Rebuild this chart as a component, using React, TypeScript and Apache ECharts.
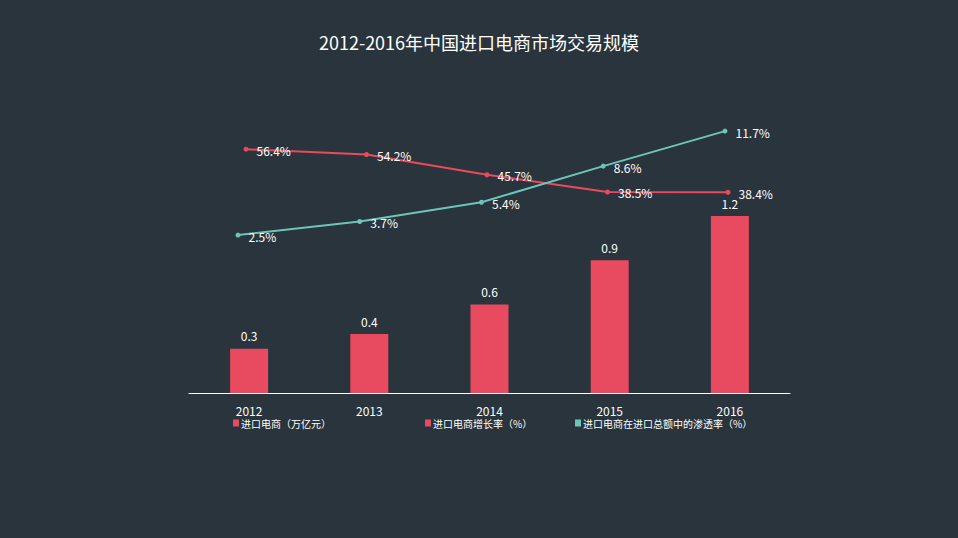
import React, { useEffect, useRef } from "react";
import * as echarts from "echarts";

const categories = ["2012", "2013", "2014", "2015", "2016"];
const scaleValues = [0.3, 0.4, 0.6, 0.9, 1.2];
const growthRates = [56.4, 54.2, 45.7, 38.5, 38.4];
const penetrationRates = [2.5, 3.7, 5.4, 8.6, 11.7];

const nameBar = "进口电商（万亿元）";
const nameGrowth = "进口电商增长率（%）";
const namePen = "进口电商在进口总额中的渗透率（%）";

const BG = "#2a343c";
const RED = "#e84a5f";
const TEAL = "#6cc5b8";
const FONT = "'Noto Sans CJK SC', 'Noto Sans', sans-serif";

export default function App() {
  const ref = useRef<HTMLDivElement>(null);
  useEffect(() => {
    const chart = echarts.init(ref.current!, null, { renderer: "svg" });
    const legendCommon = {
      itemWidth: 6,
      itemHeight: 7,
      icon: "rect",
      textStyle: { color: "#ffffff", fontSize: 10, fontFamily: FONT, padding: [0, 0, 0, -3] },
      top: 413,
    };
    const lineLabel = {
      show: true,
      position: "right",
      distance: 8,
      offset: [0, 1],
      color: "#ffffff",
      fontSize: 12,
      fontFamily: FONT,
      formatter: "{c}%",
    };
    chart.setOption({
      animation: false,
      backgroundColor: BG,
      textStyle: { fontFamily: FONT },
      title: {
        text: "2012-2016年中国进口电商市场交易规模",
        left: "center",
        top: 28,
        textStyle: { color: "#ffffff", fontSize: 18, fontWeight: "normal", fontFamily: FONT },
      },
      legend: [
        { ...legendCommon, left: 228, data: [nameBar] },
        { ...legendCommon, left: 420, data: [nameGrowth] },
        { ...legendCommon, left: 570, data: [namePen] },
      ],
      grid: [
        { left: 189, width: 601, top: 157, bottom: 145 },
        { left: 185.75, width: 602.5, top: 140.6, bottom: 254 },
        { left: 177.1, width: 608.75, top: 127.7, bottom: 274.7 },
      ],
      xAxis: [
        {
          type: "category",
          gridIndex: 0,
          data: categories,
          axisLine: { lineStyle: { color: "#ffffff", width: 1 } },
          axisTick: { show: false },
          axisLabel: { color: "#ffffff", fontSize: 12, margin: 11, fontFamily: FONT },
        },
        { type: "category", gridIndex: 1, data: categories, show: false },
        { type: "category", gridIndex: 2, data: categories, show: false },
      ],
      yAxis: [
        { type: "value", gridIndex: 0, min: 0, max: 1.6, show: false },
        { type: "value", gridIndex: 1, min: 0, max: 60, show: false },
        { type: "value", gridIndex: 2, min: 0, max: 12, show: false },
      ],
      series: [
        {
          name: nameBar,
          type: "bar",
          xAxisIndex: 0,
          yAxisIndex: 0,
          data: scaleValues,
          barWidth: 38,
          itemStyle: { color: RED },
          label: { show: true, position: "top", distance: 7, color: "#ffffff", fontSize: 12, fontFamily: FONT },
        },
        {
          name: nameGrowth,
          type: "line",
          xAxisIndex: 1,
          yAxisIndex: 1,
          data: growthRates,
          symbol: "circle",
          symbolSize: 5,
          itemStyle: { color: RED },
          lineStyle: { color: RED, width: 2 },
          label: lineLabel,
        },
        {
          name: namePen,
          type: "line",
          xAxisIndex: 2,
          yAxisIndex: 2,
          data: penetrationRates,
          symbol: "circle",
          symbolSize: 5,
          itemStyle: { color: TEAL },
          lineStyle: { color: TEAL, width: 2 },
          label: lineLabel,
        },
      ],
    });
    return () => chart.dispose();
  }, []);
  return <div ref={ref} style={{ width: 958, height: 538, position: "fixed", left: 0, top: 0 }} />;
}
